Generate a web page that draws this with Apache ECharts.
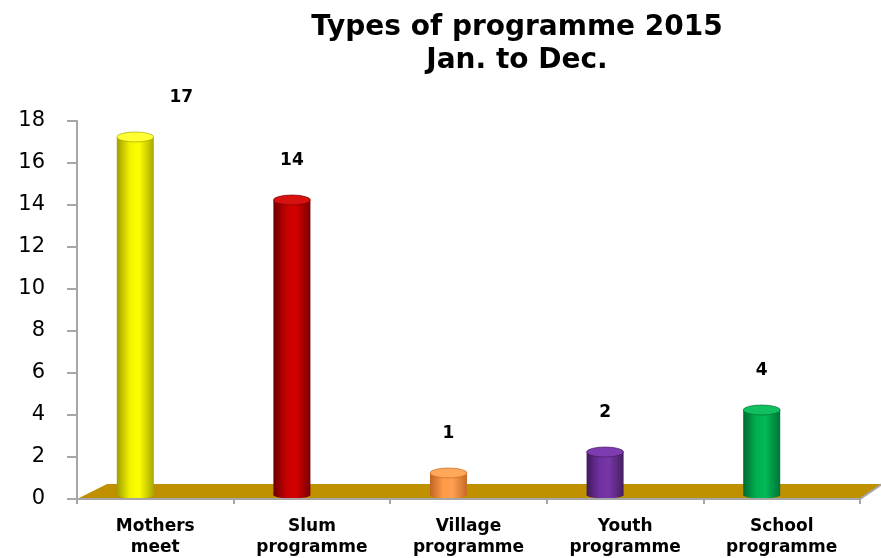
<!DOCTYPE html>
<html>
<head>
<meta charset="utf-8">
<script src="https://cdn.jsdelivr.net/npm/echarts@6/dist/echarts.min.js"></script>
<style>html,body{margin:0;padding:0;background:#fff}#c{width:881px;height:558px}</style>
</head>
<body>
<div id="c"></div>
<script>
const categories = ['Mothers\nmeet', 'Slum\nprogramme', 'Village\nprogramme', 'Youth\nprogramme', 'School\nprogramme'];
const values = [17, 14, 1, 2, 4];
const yMin = 0, yMax = 18, yStep = 2;

const palette = [
  ['#9E9E00', '#F2F200', '#FFFF00', '#A8A800'],
  ['#6E0000', '#C80000', '#D40000', '#7A0000'],
  ['#C06420', '#FF9A48', '#FFA050', '#C86A28'],
  ['#3E1A5C', '#7030A0', '#7836A8', '#44205F'],
  ['#006A30', '#00B050', '#00BA55', '#00723A']
];
const topColors = ['#FFFF33', '#D81010', '#FFA85A', '#7E3CB0', '#10C060'];
const labelShiftX = [46, 0, 0, 0, 0];

const chart = echarts.init(document.getElementById('c'));

function grad(c) {
  return new echarts.graphic.LinearGradient(0, 0, 1, 0, [
    {offset: 0, color: c[0]}, {offset: 0.35, color: c[1]},
    {offset: 0.6, color: c[2]}, {offset: 1, color: c[3]}
  ]);
}

chart.setOption({
  animation: false,
  title: {
    text: 'Types of programme 2015\nJan. to Dec.',
    left: 512, top: 6, textAlign: 'center',
    textStyle: {fontFamily: 'DejaVu Sans', fontWeight: 'bold', fontSize: 28, lineHeight: 33, color: '#000'}
  },
  grid: {left: 77, right: 21, top: 121, bottom: 52},
  xAxis: {
    type: 'category', data: categories, z: 10,
    axisLine: {lineStyle: {color: '#A6A6A6', width: 2}},
    axisTick: {show: true, length: 5, lineStyle: {color: '#A6A6A6', width: 2}},
    axisLabel: {margin: 17, fontFamily: 'DejaVu Sans', fontWeight: 'bold', fontSize: 17, lineHeight: 21, color: '#000'}
  },
  yAxis: {
    type: 'value', min: yMin, max: yMax, interval: yStep, z: 10,
    splitLine: {show: false},
    axisLine: {show: true, lineStyle: {color: '#A6A6A6', width: 2}},
    axisTick: {show: true, length: 10, lineStyle: {color: '#A6A6A6', width: 2}},
    axisLabel: {margin: 32, fontFamily: 'DejaVu Sans', fontSize: 21, color: '#000'}
  },
  series: [
    {
      type: 'custom', coordinateSystem: 'cartesian2d', clip: false, silent: true,
      data: [[0, 0]], encode: {x: 0, y: 1},
      renderItem: function (params, api) {
        const p0 = api.coord([0, 0]);
        const band = api.size([1, 0])[0];
        const left = p0[0] - band / 2;
        const right = left + band * categories.length;
        const y = p0[1];
        return {
          type: 'group', children: [
            {type: 'polygon', shape: {points: [[left, y], [left + 30, y - 15], [right + 22, y - 15], [right, y]]},
             style: {fill: '#BF9000'}},
            {type: 'line', shape: {x1: right, y1: y, x2: right + 22, y2: y - 15},
             style: {stroke: '#A6A6A6', lineWidth: 2}}
          ]
        };
      }
    },
    {
      type: 'custom', coordinateSystem: 'cartesian2d', clip: false, silent: true,
      data: values.map((v, i) => [i, v]), encode: {x: 0, y: 1},
      renderItem: function (params, api) {
        const i = api.value(0), v = api.value(1);
        const top = api.coord([i, v]);
        const base = api.coord([i, 0]);
        const cx = top[0] - 20;
        const w = 37, rx = w / 2, ry = 5;
        const yTop = top[1] - 5, yBot = base[1] - 4;
        const c = palette[params.dataIndex];
        return {
          type: 'group', children: [
            {type: 'circle', shape: {cx: 0, cy: 0, r: rx}, x: cx, y: yBot, scaleY: 3.5 / rx,
             style: {fill: grad(c)}},
            {type: 'rect', shape: {x: cx - rx, y: yTop, width: w, height: yBot - yTop},
             style: {fill: grad(c)}},
            {type: 'circle', shape: {cx: 0, cy: 0, r: rx}, x: cx, y: yTop, scaleY: ry / rx,
             style: {fill: topColors[params.dataIndex], stroke: c[0], lineWidth: 1}},
            {type: 'text', x: cx + labelShiftX[params.dataIndex], y: top[1] - 44,
             style: {text: String(v), fontFamily: 'DejaVu Sans', fontWeight: 'bold', fontSize: 17,
                     fill: '#000', align: 'center', verticalAlign: 'middle'}}
          ]
        };
      }
    }
  ]
});
</script>
</body>
</html>
